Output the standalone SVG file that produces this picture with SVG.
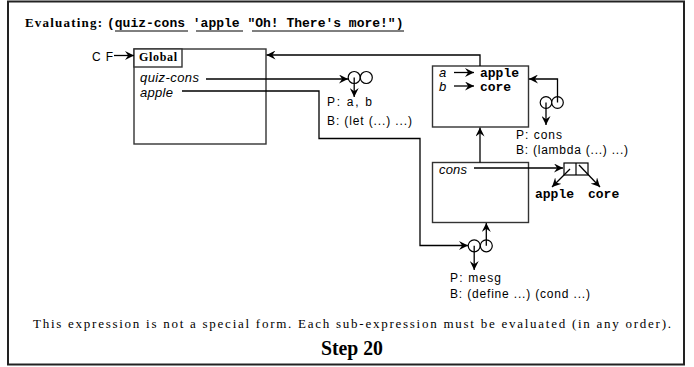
<svg xmlns="http://www.w3.org/2000/svg" width="694" height="367" viewBox="0 0 694 367">
<defs>
<marker id="ah" viewBox="0 0 10 10" refX="10" refY="5" markerWidth="9" markerHeight="9" markerUnits="userSpaceOnUse" orient="auto">
<path d="M0,0 L10,5 L0,10 L3.5,5 z" fill="#000"/>
</marker>
</defs>
<style>
.frame{fill:#fff;stroke:#333;stroke-width:1.4}
.conn{fill:none;stroke:#000;stroke-width:1.3}
.bub{fill:#fff;stroke:#000;stroke-width:1.2}
.sans{font-family:"Liberation Sans",Arial,sans-serif;font-size:12px;fill:#000}
.ital{font-family:"Liberation Sans",Arial,sans-serif;font-size:13px;font-style:italic;fill:#000}
.mono{font-family:"Liberation Mono","Courier New",monospace;font-size:13px;font-weight:bold;fill:#000}
.serif{font-family:"Liberation Serif","Times New Roman",serif;fill:#000}
</style>
<rect x="8" y="1.5" width="676" height="363" fill="#fff" stroke="#222" stroke-width="2"/>
<g id="title">
<text class="serif" x="25" y="27" font-size="13" font-weight="bold" textLength="77" lengthAdjust="spacing">Evaluating:</text>
<text class="mono" x="107" y="27" font-size="13.4" xml:space="preserve">(quiz-cons 'apple "Oh! There's more!")</text>
<line x1="115" y1="31" x2="188" y2="31" stroke="#000" stroke-width="1"/>
<line x1="196" y1="31" x2="243" y2="31" stroke="#000" stroke-width="1"/>
<line x1="252" y1="31" x2="404" y2="31" stroke="#000" stroke-width="1"/>
</g>
<g id="cf">
<text class="sans" x="92" y="61" font-size="15" textLength="21" lengthAdjust="spacing">CF</text>
</g>
<g id="global">
<rect class="frame" x="134" y="49" width="132" height="95"/>
<rect class="frame" x="134" y="49" width="48" height="18"/>
<text class="serif" x="139" y="61" font-size="12" font-weight="bold" textLength="38" lengthAdjust="spacing">Global</text>
<text class="ital" x="140" y="81.5" textLength="59" lengthAdjust="spacing">quiz-cons</text>
<text class="ital" x="140" y="96.5" textLength="33" lengthAdjust="spacing">apple</text>
</g>
<g id="e1">
<rect class="frame" x="432.5" y="66" width="96" height="61"/>
<text class="ital" x="439" y="76.5" font-size="11.5">a</text>
<text class="ital" x="439" y="90.5" font-size="11.5">b</text>
<text class="mono" x="480" y="76.5" font-size="11.5" textLength="39" lengthAdjust="spacing">apple</text>
<text class="mono" x="480" y="90.5" font-size="11.5" textLength="31" lengthAdjust="spacing">core</text>
</g>
<g id="e2">
<rect class="frame" x="432.5" y="162.5" width="96" height="60"/>
<text class="ital" x="439" y="174" textLength="28" lengthAdjust="spacing">cons</text>
</g>
<g id="proc-quiz-cons">
<circle class="bub" cx="354.2" cy="77.5" r="6"/>
<circle class="bub" cx="366.3" cy="77.5" r="6"/>
<text class="sans" x="327" y="106" textLength="45" lengthAdjust="spacing">P: a, b</text>
<text class="sans" x="327" y="124.5" textLength="85" lengthAdjust="spacing">B: (let (...) ...)</text>
</g>
<g id="proc-cons">
<circle class="bub" cx="546" cy="102.5" r="5.8"/>
<circle class="bub" cx="557.5" cy="102.5" r="5.8"/>
<text class="sans" x="516" y="138.5" textLength="46" lengthAdjust="spacing">P: cons</text>
<text class="sans" x="516" y="154" textLength="112" lengthAdjust="spacing">B: (lambda (...) ...)</text>
</g>
<g id="proc-mesg">
<circle class="bub" cx="474.2" cy="245.8" r="6"/>
<circle class="bub" cx="486.3" cy="245.8" r="6"/>
<text class="sans" x="450" y="282" textLength="51" lengthAdjust="spacing">P: mesg</text>
<text class="sans" x="450" y="297.5" textLength="140" lengthAdjust="spacing">B: (define ...) (cond ...)</text>
</g>
<g id="pair">
<rect x="564" y="163" width="24" height="12" fill="#fff" stroke="#000" stroke-width="1.2"/>
<line x1="576" y1="163" x2="576" y2="175" stroke="#000" stroke-width="1.2"/>
<text class="mono" x="535" y="198">apple</text>
<text class="mono" x="588" y="198">core</text>
</g>
<g id="connectors">
<line class="conn" x1="114" y1="55.5" x2="134" y2="55.5" marker-end="url(#ah)"/>
<line class="conn" x1="206" y1="79" x2="348" y2="79" marker-end="url(#ah)"/>
<path class="conn" d="M182,91 H319 V138.5 H420 V245.5 H468" marker-end="url(#ah)"/>
<line class="conn" x1="354.2" y1="77.5" x2="354.2" y2="97" marker-end="url(#ah)"/>
<path class="conn" d="M480,66 V55 H266.5" marker-end="url(#ah)"/>
<line class="conn" x1="454" y1="72.5" x2="474" y2="72.5" marker-end="url(#ah)"/>
<line class="conn" x1="454" y1="86" x2="474" y2="86" marker-end="url(#ah)"/>
<path class="conn" d="M557.5,102.5 V79 H529" marker-end="url(#ah)"/>
<line class="conn" x1="546" y1="102.5" x2="546" y2="125" marker-end="url(#ah)"/>
<line class="conn" x1="480" y1="162.5" x2="480" y2="127.5" marker-end="url(#ah)"/>
<line class="conn" x1="474" y1="168" x2="563" y2="168" marker-end="url(#ah)"/>
<line class="conn" x1="570" y1="169" x2="552" y2="187" marker-end="url(#ah)"/>
<line class="conn" x1="579" y1="165" x2="600" y2="187" marker-end="url(#ah)"/>
<line class="conn" x1="486.3" y1="245.8" x2="486.3" y2="223" marker-end="url(#ah)"/>
<line class="conn" x1="474.2" y1="245.8" x2="474.2" y2="270" marker-end="url(#ah)"/>
</g>
<g id="footer">
<text class="serif" x="33" y="328" font-size="13" textLength="638" lengthAdjust="spacing">This expression is not a special form.  Each sub-expression must be evaluated (in any order).</text>
<text class="serif" x="352" y="355" font-size="21" font-weight="bold" text-anchor="middle" textLength="62" lengthAdjust="spacingAndGlyphs">Step 20</text>
</g>
</svg>
